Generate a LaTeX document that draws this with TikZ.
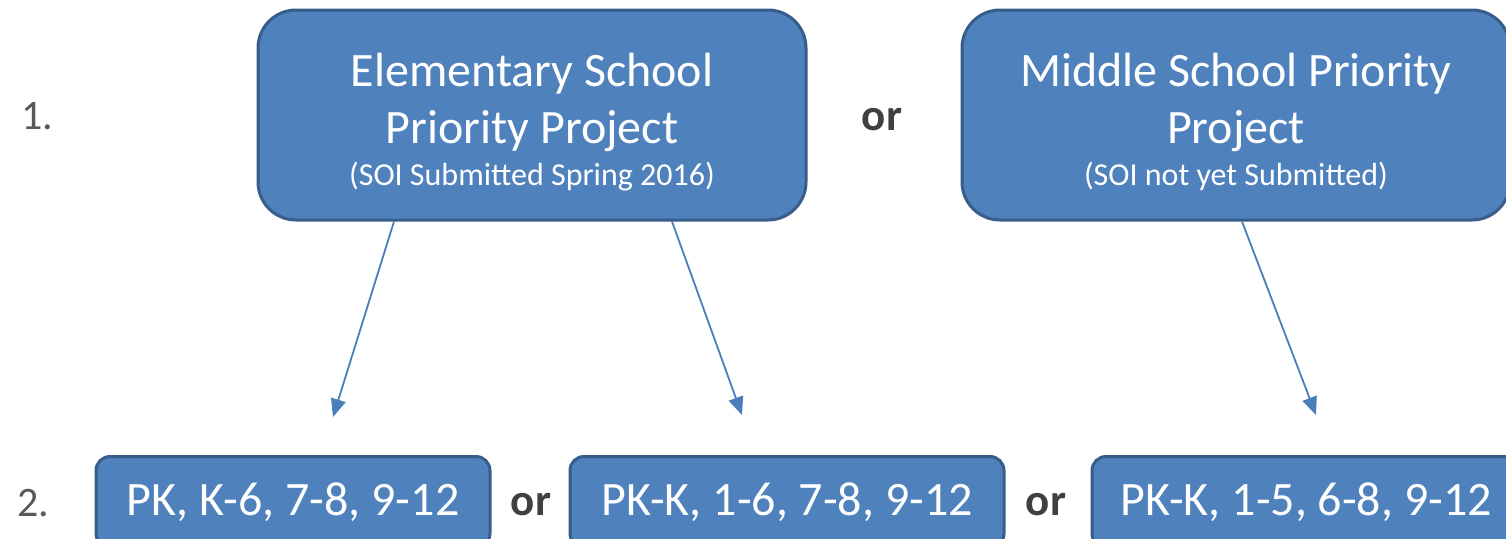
\documentclass[tikz,border=0pt]{standalone}
\usepackage{fontspec}
\setmainfont{Carlito}
\usetikzlibrary{arrows.meta,positioning}
\definecolor{boxfill}{HTML}{4F81BD}
\definecolor{boxline}{HTML}{385D8A}
\definecolor{arrblue}{HTML}{4A7EBB}
\definecolor{numgray}{HTML}{595959}
\definecolor{orgray}{HTML}{404040}

\begin{document}
\begin{tikzpicture}[
  x=1pt, y=-1pt,
  font=\fontsize{48}{57}\selectfont,
  prio/.style={draw=boxline, fill=boxfill, line width=3pt, rounded corners=38pt, text=white, align=center, minimum width=548pt, minimum height=210pt, inner sep=0pt},
  grade/.style={draw=boxline, fill=boxfill, line width=3pt, rounded corners=14pt, text=white, minimum height=91pt, inner sep=0pt},
  numlbl/.style={text=numgray, font=\fontsize{42}{50}\selectfont},
  orword/.style={text=orgray, font=\fontsize{45}{54}\selectfont\bfseries},
  arr/.style={-{Triangle[length=18pt, width=15pt]}, draw=arrblue, line width=1.8pt}
]
\useasboundingbox (0,0) rectangle (1506,538);
% row 1
\node[numlbl] (n1) at (37,116) {1.};
\node[prio] (elem) at (532,115) {\rule{0pt}{48pt}Elementary School\\Priority Project\\[-15pt]{\fontsize{32}{38}\selectfont (SOI Submitted Spring 2016)}};
\node[orword] (or1) at (882,120) {or};
\node[prio] (mid) at (1236,115) {\rule{0pt}{48pt}Middle School Priority\\Project\\[-15pt]{\fontsize{32}{38}\selectfont (SOI not yet Submitted)}};
% row 2
\node[numlbl] (n2) at (33,503) {2.};
\node[grade, minimum width=394pt] (g1) at (293,502) {PK, K-6, 7-8, 9-12};
\node[orword] (or2) at (531,505) {or};
\node[grade, minimum width=434pt] (g2) at (787,502) {PK-K, 1-6, 7-8, 9-12};
\node[orword] (or3) at (1046,505) {or};
\node[grade, minimum width=428pt] (g3) at (1306,502) {PK-K, 1-5, 6-8, 9-12};
% free arrow ends
\coordinate (e1) at (333,417);
\coordinate (e2) at (742,415);
\coordinate (e3) at (1316,415);
\draw[arr] ([xshift=-138pt]elem.south) -- (e1);
\draw[arr] ([xshift=140pt]elem.south) -- (e2);
\draw[arr] ([xshift=6pt]mid.south) -- (e3);
\end{tikzpicture}
\end{document}
